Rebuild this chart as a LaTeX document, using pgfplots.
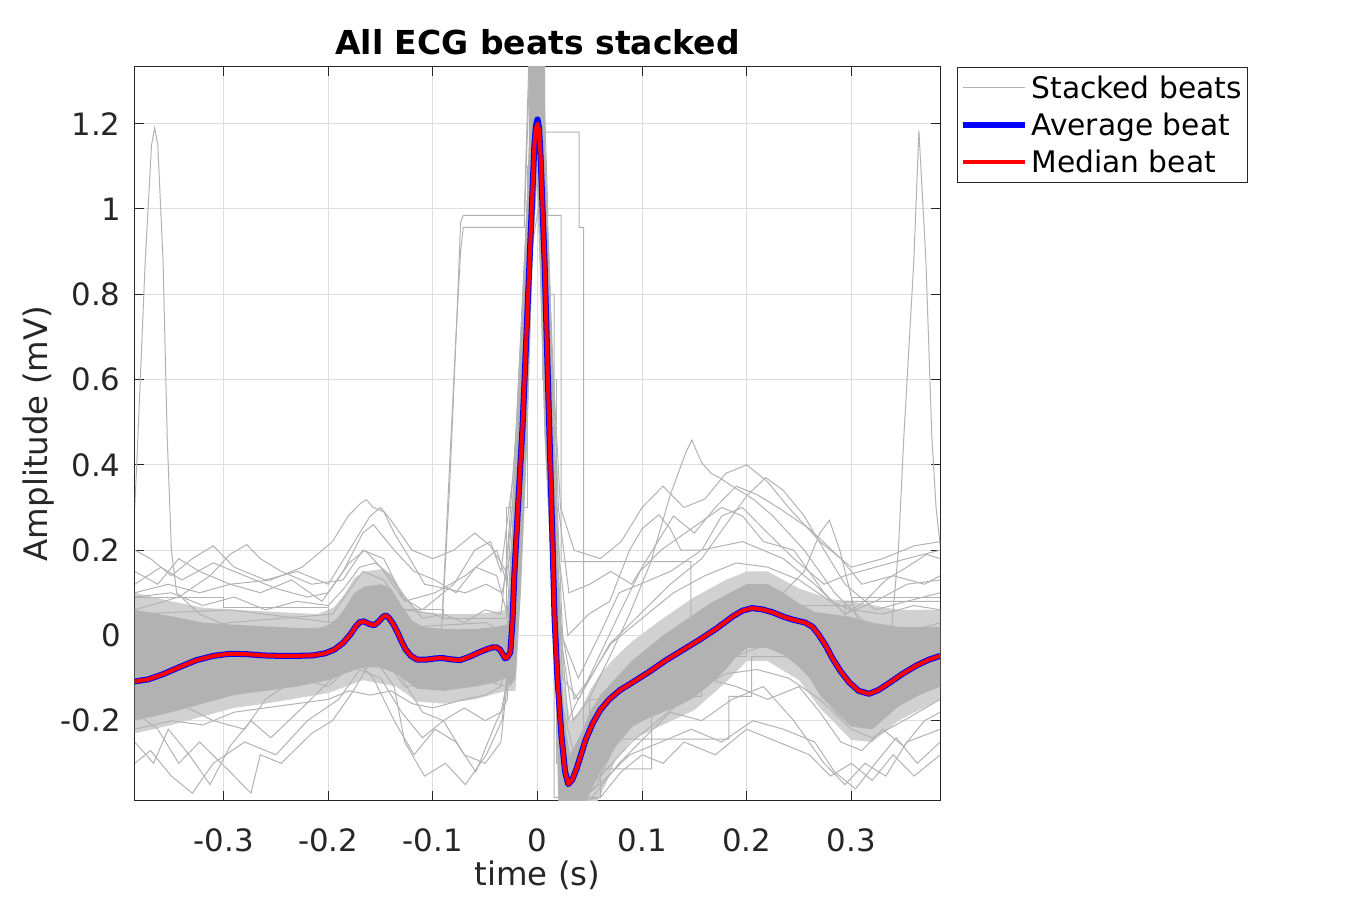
\documentclass[border=0pt]{standalone}
\usepackage{pgfplots}
\pgfplotsset{compat=1.18}
\usepackage{fontspec}
\setmainfont{DejaVu Sans}
\definecolor{stk}{gray}{0.7}
\definecolor{stkl}{gray}{0.82}
\definecolor{axc}{gray}{0.15}
\definecolor{grd}{gray}{0.87}
\begin{document}
\begin{tikzpicture}
\useasboundingbox (0,0) rectangle (675pt,450pt);
\begin{axis}[
 scale only axis, width=402.5pt, height=366.5pt,
 at={(67.5pt,50pt)}, anchor=south west,
 xmin=-0.3848, xmax=0.3848, ymin=-0.386, ymax=1.333,
 xtick={-0.3,-0.2,-0.1,0,0.1,0.2,0.3},
 xticklabels={-0.3,-0.2,-0.1,0,0.1,0.2,0.3},
 ytick={-0.2,0,0.2,0.4,0.6,0.8,1,1.2},
 yticklabels={-0.2,0,0.2,0.4,0.6,0.8,1,1.2},
 /pgf/number format/assume math mode=true,
 tick align=inside, major tick length=4.5pt,
 tick style={axc, line width=0.5pt},
 axis line style={axc, line width=0.5pt},
 grid=major, grid style={grd, line width=0.5pt},
 tick label style={font=\fontsize{15.4}{18}\selectfont, text=axc},
 xticklabel style={anchor=base, inner sep=0pt, yshift=-25.5pt},
 yticklabel style={anchor=east, inner sep=0pt, xshift=-7pt},
 xlabel={time (s)}, ylabel={Amplitude (mV)},
 label style={font=\fontsize{16.2}{19}\selectfont, text=axc},
 xlabel style={at={(axis description cs:0.5,-0.116)}, anchor=base, inner sep=0pt},
 ylabel style={at={(axis description cs:-0.1093,0.5)}, anchor=base, inner sep=0pt},
 title={All ECG beats stacked},
 title style={font=\bfseries\fontsize{16.5}{19}\selectfont, at={(axis description cs:0.5,1.0)}, anchor=base, inner sep=0pt},
 legend style={at={(axis description cs:1.0211,1)}, anchor=north west, draw=axc, line width=0.5pt, fill=white,
   font=\fontsize{14.85}{17}\selectfont, inner xsep=1pt, inner ysep=1pt, row sep=0pt,
   cells={anchor=west}, nodes={text height=12.5pt, text depth=2pt, inner ysep=2pt, inner xsep=2pt}},
 legend image code/.code={\draw[#1] (0pt,0pt) -- (31pt,0pt);},
]
% fringe of the stacked beats (many thin lines, seen as a lighter zone)
\addplot[fill=stkl, draw=none, forget plot] coordinates {
(-0.385,0.1) (-0.35,0.08) (-0.32,0.065) (-0.29,0.06) (-0.25,0.055) (-0.21,0.05) (-0.195,0.065)
(-0.185,0.095) (-0.175,0.135) (-0.165,0.15) (-0.15,0.155) (-0.14,0.145) (-0.13,0.105) (-0.12,0.07)
(-0.11,0.055) (-0.09,0.05) (-0.06,0.05) (-0.04,0.055) (-0.03,0.06) (-0.026,0.08)
(-0.023,0.25) (-0.019,0.47) (-0.0124,0.88) (-0.0083,1.15) (-0.0083,1.45) (0.0073,1.45)
(0.0073,1.15) (0.0115,0.88) (0.0163,0.47) (0.019,0.25) (0.022,0.05) (0.026,-0.12) (0.031,-0.2)
(0.040,-0.18) (0.05,-0.13) (0.06,-0.09) (0.075,-0.05) (0.09,-0.015) (0.12,0.04) (0.15,0.09)
(0.18,0.13) (0.2,0.15) (0.22,0.15) (0.25,0.11) (0.28,0.085) (0.3,0.08) (0.345,0.06) (0.385,0.06)
(0.385,-0.15) (0.345,-0.2) (0.32,-0.25) (0.3,-0.245) (0.27,-0.17) (0.25,-0.105) (0.22,-0.06)
(0.2,-0.06) (0.18,-0.11) (0.15,-0.175) (0.12,-0.21) (0.09,-0.245) (0.075,-0.29) (0.065,-0.35)
(0.055,-0.40) (0.02,-0.40) (0.017,-0.05) (0.0067,0.47) (0.002,0.88) (-0.001,1.1) (-0.0048,0.88)
(-0.0096,0.47) (-0.016,0.1) (-0.021,-0.13) (-0.03,-0.13) (-0.06,-0.15) (-0.09,-0.16) (-0.115,-0.155)
(-0.135,-0.12) (-0.167,-0.105) (-0.2,-0.135) (-0.26,-0.16) (-0.29,-0.17) (-0.32,-0.19) (-0.35,-0.21)
(-0.385,-0.23)
};
% dense core of the stacked beats
\addplot[fill=stk, draw=none, forget plot] coordinates {
(-0.385,0.06) (-0.35,0.045) (-0.32,0.03) (-0.29,0.025) (-0.25,0.02) (-0.21,0.015) (-0.195,0.03)
(-0.185,0.06) (-0.175,0.1) (-0.165,0.115) (-0.15,0.12) (-0.14,0.11) (-0.13,0.07) (-0.12,0.035)
(-0.11,0.02) (-0.09,0.015) (-0.06,0.015) (-0.04,0.02) (-0.03,0.025) (-0.026,0.05) (-0.023,0.25)
(-0.019,0.47) (-0.0124,0.88) (-0.0083,1.15) (-0.0083,1.45) (0.0073,1.45) (0.0073,1.15) (0.0115,0.88)
(0.0163,0.47) (0.019,0.2) (0.022,-0.05) (0.026,-0.2) (0.031,-0.28) (0.040,-0.24) (0.05,-0.18)
(0.06,-0.14) (0.075,-0.1) (0.09,-0.06) (0.105,-0.03) (0.12,0.0) (0.135,0.025) (0.15,0.05)
(0.165,0.075) (0.18,0.095) (0.2,0.12) (0.22,0.12) (0.235,0.1) (0.25,0.075) (0.265,0.055) (0.28,0.05)
(0.3,0.043) (0.32,0.03) (0.345,0.02) (0.385,0.02)
(0.385,-0.12) (0.365,-0.14) (0.345,-0.167) (0.32,-0.22) (0.3,-0.214) (0.285,-0.18) (0.27,-0.14)
(0.26,-0.1) (0.25,-0.074) (0.235,-0.045) (0.22,-0.03) (0.2,-0.03) (0.19,-0.05) (0.18,-0.08)
(0.165,-0.115) (0.15,-0.145) (0.135,-0.165) (0.12,-0.18) (0.105,-0.195) (0.09,-0.215) (0.075,-0.26)
(0.06,-0.32) (0.05,-0.37) (0.045,-0.40) (0.020,-0.40) (0.017,-0.05) (0.0067,0.47) (0.002,0.88)
(-0.001,1.1) (-0.0048,0.88) (-0.0096,0.47) (-0.016,0.1) (-0.021,-0.1) (-0.026,-0.12) (-0.03,-0.1)
(-0.04,-0.11) (-0.06,-0.12) (-0.09,-0.13) (-0.115,-0.125) (-0.135,-0.09) (-0.15,-0.075) (-0.167,-0.075)
(-0.185,-0.09) (-0.2,-0.105) (-0.23,-0.12) (-0.26,-0.13) (-0.29,-0.14) (-0.32,-0.16) (-0.35,-0.18)
(-0.385,-0.2)
};
% individual stacked beats
\addplot[stk, line width=0.5pt] coordinates {
(-0.385,0.30) (-0.382,0.465) (-0.375,0.88) (-0.369,1.15) (-0.366,1.19) (-0.363,1.15) (-0.358,0.88)
(-0.354,0.465) (-0.350,0.2) (-0.345,0.1) (-0.323,0.05) (-0.294,0.02) (-0.245,0.0) (-0.196,-0.02)
(-0.167,0.06) (-0.147,0.07) (-0.127,-0.02) (-0.098,-0.05) (-0.049,-0.03) (-0.029,-0.05) (-0.02,0.3)
(-0.01,0.9) (0,1.3) (0.01,0.7) (0.02,-0.1) (0.029,-0.3) (0.049,-0.2) (0.098,-0.08) (0.196,0.05)
(0.255,0.02) (0.304,-0.12) (0.385,-0.05)
};
\addlegendentry{Stacked beats}
\addplot[stk, line width=0.5pt, forget plot] coordinates {
(-0.385,-0.02) (-0.294,0.0) (-0.196,0.02) (-0.157,0.09) (-0.137,0.08) (-0.118,-0.02) (-0.059,0.0)
(-0.029,-0.02) (-0.02,0.35) (-0.008,1.0) (0.002,1.25) (0.012,0.5) (0.022,-0.15) (0.034,-0.27)
(0.059,-0.15) (0.098,-0.06) (0.147,0.02) (0.196,0.1) (0.245,0.08) (0.294,-0.05) (0.323,-0.07)
(0.338,0.0) (0.345,0.2) (0.3502,0.465) (0.3598,0.88) (0.3646,1.184) (0.3713,0.88) (0.377,0.465)
(0.381,0.3) (0.385,0.21)
};
\addplot[stk, line width=0.5pt, forget plot] coordinates {
(-0.385,0.05) (-0.294,0.06) (-0.196,0.03) (-0.157,0.1) (-0.127,0.06) (-0.098,0.05) (-0.091,0.04)
(-0.084,0.35) (-0.077,0.75) (-0.0735,0.97) (-0.071,0.985) (-0.0127,0.985) (-0.007,1.45) (0.004,1.45)
(0.010,0.985) (0.0226,0.985) (0.0226,0.173) (0.1466,0.173) (0.1466,-0.04) (0.196,0.03) (0.294,-0.1)
(0.385,-0.05)
};
\addplot[stk, line width=0.5pt, forget plot] coordinates {
(-0.385,-0.05) (-0.294,-0.03) (-0.196,-0.06) (-0.157,0.03) (-0.118,-0.08) (-0.093,-0.05) (-0.086,0.3)
(-0.078,0.7) (-0.0735,0.9) (-0.071,0.957) (-0.0127,0.957) (-0.008,1.3) (-0.002,1.45) (0.006,1.18)
(0.0398,1.18) (0.0398,0.957) (0.044,0.957) (0.044,-0.243) (0.183,-0.243) (0.183,-0.143) (0.2048,-0.143)
(0.2048,-0.05) (0.294,-0.05) (0.294,0.08) (0.385,0.08)
};
\addplot[stk, line width=0.5pt, forget plot] coordinates {
(-0.385,-0.15) (-0.294,-0.12) (-0.196,-0.1) (-0.157,-0.02) (-0.127,-0.12) (-0.059,-0.1) (-0.029,-0.12)
(-0.018,0.3) (-0.006,1.0) (0.004,1.3) (0.012,0.8) (0.016,0.8) (0.016,-0.38) (0.06,-0.38) (0.06,-0.313)
(0.109,-0.313) (0.109,-0.143) (0.157,-0.143) (0.157,-0.08) (0.22,-0.02) (0.26,-0.03) (0.3,-0.15) (0.385,-0.1)
};
\addplot[stk, line width=0.5pt, forget plot] coordinates {
(-0.385,-0.1) (-0.294,-0.05) (-0.196,-0.02) (-0.167,0.05) (-0.147,0.06) (-0.118,-0.05) (-0.049,-0.02)
(-0.029,-0.04) (-0.02,0.3) (-0.005,1.1) (0.002,1.3) (0.012,0.6) (0.022,0.0) (0.034,-0.2) (0.049,-0.15)
(0.069,-0.05) (0.088,0.05) (0.108,0.17) (0.127,0.33) (0.142,0.43) (0.1475,0.458) (0.157,0.405)
(0.166,0.38) (0.174,0.37) (0.186,0.35) (0.206,0.32) (0.225,0.28) (0.255,0.2) (0.284,0.1) (0.313,0.03)
(0.343,0.0) (0.385,0.03)
};
\addplot[stk, line width=0.5pt, forget plot] coordinates {
(-0.385,0.0) (-0.294,0.03) (-0.196,0.05) (-0.167,0.15) (-0.147,0.13) (-0.118,0.02) (-0.049,0.03)
(-0.029,0.0) (-0.018,0.5) (-0.006,1.2) (0.004,1.25) (0.014,0.4) (0.024,-0.1) (0.039,-0.15) (0.069,-0.02)
(0.098,0.05) (0.127,0.12) (0.157,0.18) (0.186,0.28) (0.201,0.33) (0.2182,0.37) (0.235,0.34) (0.255,0.28)
(0.274,0.2) (0.294,0.12) (0.323,0.06) (0.353,0.08) (0.385,0.1)
};
\addplot[stk, line width=0.5pt, forget plot] coordinates {
(-0.385,-0.08) (-0.3,-0.06) (-0.2,-0.08) (-0.16,0.0) (-0.13,-0.06) (-0.06,-0.05) (-0.03,-0.07)
(-0.02,0.25) (-0.004,1.15) (0.006,1.2) (0.014,0.3) (0.025,-0.3) (0.04,-0.33) (0.07,-0.2) (0.1,-0.1)
(0.15,0.0) (0.2,0.05) (0.235,0.1) (0.255,0.15) (0.27,0.24) (0.279,0.27) (0.289,0.2) (0.304,0.05)
(0.323,-0.05) (0.353,-0.08) (0.385,-0.05)
};
\addplot[stk, line width=0.5pt, forget plot] coordinates {
(-0.385,0.1) (-0.353,0.12) (-0.323,0.1) (-0.294,0.12) (-0.255,0.13) (-0.225,0.16) (-0.196,0.22)
(-0.181,0.28) (-0.169,0.31) (-0.1636,0.318) (-0.157,0.3) (-0.147,0.29) (-0.137,0.24) (-0.122,0.18)
(-0.108,0.12) (-0.088,0.11) (-0.069,0.1) (-0.049,0.12) (-0.034,0.1) (-0.025,0.2) (-0.012,0.8)
(-0.002,1.3) (0.01,0.7) (0.02,0.1) (0.029,-0.2) (0.049,-0.1) (0.078,0.05) (0.098,0.15) (0.118,0.2)
(0.147,0.25) (0.176,0.3) (0.196,0.28) (0.216,0.22) (0.245,0.2) (0.274,0.1) (0.294,0.05) (0.323,0.08)
(0.353,0.12) (0.385,0.13)
};
\addplot[stk, line width=0.5pt, forget plot] coordinates {
(-0.385,0.06) (-0.343,0.09) (-0.313,0.14) (-0.294,0.19) (-0.278,0.213) (-0.265,0.18) (-0.245,0.15)
(-0.216,0.12) (-0.186,0.13) (-0.167,0.2) (-0.147,0.18) (-0.127,0.08) (-0.098,0.1) (-0.069,0.14)
(-0.049,0.18) (-0.039,0.2) (-0.029,0.12) (-0.02,0.45) (-0.008,1.1) (0.003,1.3) (0.013,0.5) (0.023,0.0)
(0.039,-0.1) (0.059,0.0) (0.078,0.1) (0.098,0.12) (0.127,0.15) (0.157,0.2) (0.196,0.22) (0.235,0.18)
(0.265,0.12) (0.294,0.05) (0.313,0.08) (0.333,0.13) (0.353,0.16) (0.372,0.19) (0.385,0.18)
};
\addplot[stk, line width=0.5pt, forget plot] coordinates {
(-0.385,-0.25) (-0.367,-0.3) (-0.353,-0.22) (-0.333,-0.28) (-0.313,-0.35) (-0.294,-0.26) (-0.274,-0.2)
(-0.255,-0.24) (-0.225,-0.17) (-0.196,-0.1) (-0.176,-0.05) (-0.157,-0.1) (-0.137,-0.2) (-0.118,-0.28)
(-0.098,-0.22) (-0.078,-0.25) (-0.059,-0.32) (-0.039,-0.2) (-0.029,-0.15) (-0.02,0.2) (-0.01,0.7)
(0.0,1.1) (0.01,0.6) (0.02,-0.1) (0.029,-0.39) (0.049,-0.39) (0.078,-0.3) (0.098,-0.25) (0.127,-0.18)
(0.157,-0.2) (0.186,-0.15) (0.216,-0.12) (0.245,-0.2) (0.274,-0.3) (0.294,-0.35) (0.313,-0.3)
(0.333,-0.33) (0.353,-0.25) (0.385,-0.22)
};
\addplot[stk, line width=0.5pt, forget plot] coordinates {
(-0.385,-0.18) (-0.363,-0.22) (-0.343,-0.3) (-0.323,-0.25) (-0.294,-0.32) (-0.274,-0.37) (-0.265,-0.28)
(-0.245,-0.3) (-0.216,-0.23) (-0.196,-0.2) (-0.176,-0.13) (-0.157,-0.05) (-0.137,-0.12) (-0.127,-0.25)
(-0.108,-0.33) (-0.088,-0.3) (-0.069,-0.35) (-0.049,-0.28) (-0.034,-0.2) (-0.025,0.0) (-0.012,0.6)
(-0.002,1.2) (0.008,0.8) (0.018,0.0) (0.029,-0.39) (0.059,-0.35) (0.088,-0.28) (0.118,-0.25)
(0.147,-0.22) (0.176,-0.25) (0.206,-0.2) (0.235,-0.22) (0.265,-0.25) (0.284,-0.32) (0.304,-0.36)
(0.323,-0.3) (0.343,-0.24) (0.363,-0.3) (0.385,-0.25)
};
\addplot[stk, line width=0.5pt, forget plot] coordinates {
(-0.385,0.15) (-0.363,0.12) (-0.343,0.18) (-0.323,0.15) (-0.294,0.12) (-0.265,0.1) (-0.235,0.13)
(-0.206,0.08) (-0.186,0.15) (-0.167,0.24) (-0.157,0.26) (-0.137,0.2) (-0.118,0.15) (-0.098,0.13)
(-0.078,0.1) (-0.059,0.16) (-0.039,0.14) (-0.029,0.05) (-0.02,0.4) (-0.006,1.1) (0.004,1.3) (0.012,0.6)
(0.02,0.2) (0.029,0.0) (0.049,0.05) (0.069,0.08) (0.088,0.2) (0.1,0.25) (0.116,0.283) (0.127,0.25)
(0.137,0.2) (0.157,0.2) (0.176,0.28) (0.196,0.3) (0.216,0.25) (0.245,0.18) (0.274,0.12) (0.294,0.14)
(0.323,0.16) (0.353,0.18) (0.385,0.2)
};
\addplot[stk, line width=0.5pt, forget plot] coordinates {
(-0.385,0.09) (-0.35,0.1) (-0.32,0.07) (-0.29,0.09) (-0.26,0.06) (-0.23,0.08) (-0.2,0.07) (-0.185,0.11)
(-0.17,0.16) (-0.155,0.17) (-0.145,0.15) (-0.13,0.1) (-0.11,0.04) (-0.09,0.05) (-0.07,0.03) (-0.05,0.06)
(-0.035,0.05) (-0.024,0.3) (-0.01,1.0) (0.0,1.35) (0.012,0.7) (0.024,0.0) (0.035,-0.15) (0.05,-0.1)
(0.07,-0.02) (0.1,0.04) (0.13,0.1) (0.16,0.14) (0.19,0.17) (0.22,0.16) (0.25,0.13) (0.28,0.08)
(0.3,0.06) (0.33,0.05) (0.36,0.07) (0.385,0.06)
};
\addplot[stk, line width=0.5pt, forget plot] coordinates {
(-0.385,-0.22) (-0.35,-0.2) (-0.32,-0.21) (-0.29,-0.18) (-0.26,-0.17) (-0.23,-0.16) (-0.2,-0.15)
(-0.18,-0.13) (-0.16,-0.14) (-0.14,-0.13) (-0.12,-0.16) (-0.1,-0.17) (-0.07,-0.15) (-0.05,-0.14)
(-0.035,-0.12) (-0.022,0.1) (-0.01,0.8) (0.0,1.15) (0.01,0.6) (0.02,-0.2) (0.03,-0.39) (0.06,-0.33)
(0.09,-0.25) (0.12,-0.19) (0.15,-0.13) (0.18,-0.09) (0.21,-0.08) (0.24,-0.1) (0.27,-0.15) (0.3,-0.22)
(0.32,-0.24) (0.35,-0.2) (0.385,-0.15)
};
\addplot[stk, line width=0.5pt, forget plot] coordinates {
(-0.385,0.12) (-0.36,0.16) (-0.34,0.13) (-0.31,0.17) (-0.28,0.14) (-0.25,0.11) (-0.22,0.09) (-0.2,0.1)
(-0.18,0.17) (-0.165,0.2) (-0.15,0.16) (-0.13,0.09) (-0.11,0.06) (-0.08,0.12) (-0.06,0.2) (-0.045,0.22)
(-0.035,0.15) (-0.022,0.4) (-0.008,1.1) (0.002,1.35) (0.012,0.8) (0.02,0.3) (0.03,0.1) (0.05,0.12)
(0.07,0.15) (0.09,0.12) (0.11,0.2) (0.13,0.28) (0.15,0.24) (0.17,0.3) (0.19,0.35) (0.21,0.33) (0.23,0.3)
(0.26,0.25) (0.29,0.18) (0.31,0.12) (0.34,0.14) (0.37,0.12) (0.385,0.14)
};
\addplot[stk, line width=0.5pt, forget plot] coordinates {
(-0.385,-0.3) (-0.37,-0.27) (-0.35,-0.33) (-0.33,-0.37) (-0.31,-0.3) (-0.28,-0.25) (-0.25,-0.28)
(-0.22,-0.2) (-0.19,-0.15) (-0.17,-0.08) (-0.15,-0.1) (-0.13,-0.18) (-0.11,-0.24) (-0.09,-0.2)
(-0.07,-0.28) (-0.05,-0.3) (-0.035,-0.25) (-0.02,0.1) (-0.006,0.9) (0.004,1.05) (0.014,0.3) (0.024,-0.3)
(0.035,-0.39) (0.06,-0.38) (0.08,-0.32) (0.1,-0.28) (0.12,-0.3) (0.14,-0.25) (0.17,-0.28) (0.2,-0.22)
(0.23,-0.25) (0.26,-0.28) (0.28,-0.33) (0.3,-0.3) (0.32,-0.34) (0.34,-0.28) (0.36,-0.33) (0.385,-0.28)
};
\addplot[stk, line width=0.5pt, forget plot] coordinates {
(-0.385,0.2) (-0.37,0.18) (-0.35,0.14) (-0.33,0.18) (-0.31,0.21) (-0.29,0.16) (-0.26,0.13) (-0.23,0.15)
(-0.2,0.12) (-0.18,0.2) (-0.16,0.28) (-0.15,0.3) (-0.14,0.27) (-0.12,0.2) (-0.1,0.18) (-0.08,0.2)
(-0.06,0.24) (-0.045,0.21) (-0.03,0.15) (-0.02,0.5) (-0.007,1.15) (0.003,1.3) (0.013,0.7) (0.022,0.3)
(0.035,0.2) (0.06,0.18) (0.08,0.22) (0.1,0.3) (0.12,0.35) (0.14,0.3) (0.16,0.32) (0.18,0.38) (0.2,0.4)
(0.22,0.36) (0.24,0.3) (0.27,0.22) (0.3,0.16) (0.33,0.18) (0.36,0.21) (0.385,0.22)
};
\addplot[stk, line width=0.5pt, forget plot] coordinates {
(-0.385,-0.12) (-0.35,-0.15) (-0.31,-0.2) (-0.28,-0.22) (-0.26,-0.15) (-0.23,-0.1) (-0.2,-0.12)
(-0.17,-0.05) (-0.15,-0.02) (-0.13,-0.1) (-0.11,-0.18) (-0.09,-0.2) (-0.07,-0.17) (-0.05,-0.2)
(-0.035,-0.18) (-0.024,-0.05) (-0.01,0.7) (0.0,1.15) (0.01,0.5) (0.02,-0.2) (0.03,-0.39) (0.055,-0.36)
(0.075,-0.25) (0.1,-0.18) (0.13,-0.12) (0.16,-0.1) (0.19,-0.12) (0.22,-0.15) (0.25,-0.12) (0.27,-0.18)
(0.29,-0.25) (0.31,-0.27) (0.33,-0.22) (0.35,-0.26) (0.37,-0.2) (0.385,-0.18)
};
\addplot[stk, line width=0.5pt, forget plot] coordinates {
(-0.385,0.09) (-0.3,0.09) (-0.3,0.065) (-0.2,0.065) (-0.2,0.03) (-0.15,0.03) (-0.15,0.06) (-0.09,0.06)
(-0.09,0.04) (-0.03,0.04) (-0.03,0.3) (-0.01,0.3) (-0.01,1.1) (0.005,1.1) (0.005,0.6) (0.018,0.6)
(0.018,-0.3) (0.05,-0.3) (0.05,-0.15) (0.1,-0.15) (0.1,-0.05) (0.2,-0.05) (0.2,0.07) (0.3,0.07)
(0.3,0.09) (0.385,0.09)
};
% average beat
\addplot[blue, line width=3pt, line join=round] coordinates {
(-0.385,-0.108) (-0.372,-0.103) (-0.358,-0.091) (-0.342,-0.074) (-0.326,-0.058) (-0.310,-0.048)
(-0.294,-0.043) (-0.278,-0.044) (-0.262,-0.047) (-0.246,-0.048) (-0.230,-0.048) (-0.215,-0.047)
(-0.203,-0.042) (-0.194,-0.033) (-0.186,-0.018) (-0.179,0.002) (-0.174,0.020) (-0.170,0.031)
(-0.166,0.033) (-0.161,0.027) (-0.156,0.024) (-0.152,0.032) (-0.148,0.043) (-0.145,0.047)
(-0.142,0.041) (-0.138,0.027) (-0.134,0.008) (-0.130,-0.014) (-0.126,-0.033) (-0.121,-0.048)
(-0.115,-0.057) (-0.107,-0.057) (-0.098,-0.054) (-0.091,-0.053) (-0.083,-0.056) (-0.074,-0.058)
(-0.065,-0.050) (-0.056,-0.040) (-0.048,-0.032) (-0.043,-0.028) (-0.039,-0.028) (-0.036,-0.033)
(-0.033,-0.045) (-0.031,-0.054) (-0.029,-0.052) (-0.026,-0.040) (-0.024,0.03) (-0.022,0.15)
(-0.018,0.33) (-0.0143,0.49) (-0.011,0.68) (-0.0076,0.88) (-0.005,1.03) (-0.003,1.15) (-0.0015,1.195)
(0.000,1.21) (0.0015,1.19) (0.003,1.12) (0.0067,0.88) (0.009,0.68) (0.0115,0.465) (0.014,0.25)
(0.0163,0.04) (0.019,-0.10) (0.0229,-0.236) (0.0264,-0.320) (0.0294,-0.349) (0.0333,-0.338)
(0.037,-0.315) (0.040,-0.292) (0.046,-0.245) (0.053,-0.205) (0.060,-0.175) (0.0685,-0.150)
(0.079,-0.128) (0.091,-0.110) (0.107,-0.085) (0.123,-0.058) (0.139,-0.034) (0.155,-0.010)
(0.171,0.016) (0.187,0.045) (0.196,0.058) (0.205,0.064) (0.215,0.061) (0.225,0.054) (0.235,0.044)
(0.244,0.037) (0.256,0.030) (0.263,0.020) (0.269,0.001) (0.276,-0.026) (0.282,-0.054) (0.290,-0.085)
(0.298,-0.110) (0.307,-0.130) (0.317,-0.137) (0.326,-0.128) (0.336,-0.112) (0.349,-0.090)
(0.362,-0.071) (0.374,-0.057) (0.385,-0.048)
};
\addlegendentry{Average beat}
% median beat
\addplot[red, line width=2pt, line join=round] coordinates {
(-0.385,-0.108) (-0.372,-0.103) (-0.358,-0.091) (-0.342,-0.074) (-0.326,-0.058) (-0.310,-0.048)
(-0.294,-0.043) (-0.278,-0.044) (-0.262,-0.047) (-0.246,-0.048) (-0.230,-0.048) (-0.215,-0.047)
(-0.203,-0.042) (-0.194,-0.033) (-0.186,-0.018) (-0.179,0.002) (-0.174,0.020) (-0.170,0.031)
(-0.166,0.033) (-0.161,0.027) (-0.156,0.024) (-0.152,0.032) (-0.148,0.043) (-0.145,0.047)
(-0.142,0.041) (-0.138,0.027) (-0.134,0.008) (-0.130,-0.014) (-0.126,-0.033) (-0.121,-0.048)
(-0.115,-0.057) (-0.107,-0.057) (-0.098,-0.054) (-0.091,-0.053) (-0.083,-0.056) (-0.074,-0.058)
(-0.065,-0.050) (-0.056,-0.040) (-0.048,-0.032) (-0.043,-0.028) (-0.039,-0.028) (-0.036,-0.033)
(-0.033,-0.045) (-0.031,-0.054) (-0.029,-0.052) (-0.026,-0.040) (-0.024,0.03) (-0.022,0.15)
(-0.018,0.33) (-0.0143,0.49) (-0.011,0.68) (-0.0076,0.88) (-0.005,1.03) (-0.003,1.15) (-0.0015,1.19)
(0.000,1.20) (0.0015,1.185) (0.003,1.12) (0.0067,0.88) (0.009,0.68) (0.0115,0.465) (0.014,0.25)
(0.0163,0.04) (0.019,-0.10) (0.0229,-0.236) (0.0264,-0.320) (0.0294,-0.349) (0.0333,-0.338)
(0.037,-0.315) (0.040,-0.292) (0.046,-0.245) (0.053,-0.205) (0.060,-0.175) (0.0685,-0.150)
(0.079,-0.128) (0.091,-0.110) (0.107,-0.085) (0.123,-0.058) (0.139,-0.034) (0.155,-0.010)
(0.171,0.016) (0.187,0.045) (0.196,0.058) (0.205,0.064) (0.215,0.061) (0.225,0.054) (0.235,0.044)
(0.244,0.037) (0.256,0.030) (0.263,0.020) (0.269,0.001) (0.276,-0.026) (0.282,-0.054) (0.290,-0.085)
(0.298,-0.110) (0.307,-0.130) (0.317,-0.137) (0.326,-0.128) (0.336,-0.112) (0.349,-0.090)
(0.362,-0.071) (0.374,-0.057) (0.385,-0.048)
};
\addlegendentry{Median beat}
\end{axis}
\end{tikzpicture}
\end{document}
